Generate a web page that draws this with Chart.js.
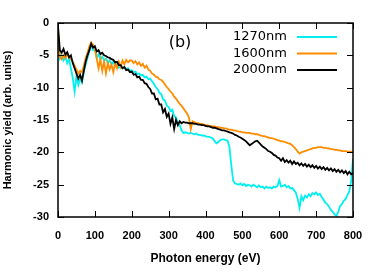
<!DOCTYPE html>
<html>
<head>
<meta charset="utf-8">
<script src="https://cdn.jsdelivr.net/npm/chart.js@4.4.1/dist/chart.umd.min.js"></script>
<style>
html, body { margin: 0; padding: 0; background: #fff; }
</style>
</head>
<body>
<canvas id="grafico" width="380" height="272"></canvas>
<script>
// eixo x: energia do foton (eV), passo de 5 eV
var energia = [
  0, 5, 10, 15, 20, 25, 30, 35, 40, 45,
  50, 55, 60, 65, 70, 75, 80, 85, 90, 95,
  100, 105, 110, 115, 120, 125, 130, 135, 140, 145,
  150, 155, 160, 165, 170, 175, 180, 185, 190, 195,
  200, 205, 210, 215, 220, 225, 230, 235, 240, 245,
  250, 255, 260, 265, 270, 275, 280, 285, 290, 295,
  300, 305, 310, 315, 320, 325, 330, 335, 340, 345,
  350, 355, 360, 365, 370, 375, 380, 385, 390, 395,
  400, 405, 410, 415, 420, 425, 430, 435, 440, 445,
  450, 455, 460, 465, 470, 475, 480, 485, 490, 495,
  500, 505, 510, 515, 520, 525, 530, 535, 540, 545,
  550, 555, 560, 565, 570, 575, 580, 585, 590, 595,
  600, 605, 610, 615, 620, 625, 630, 635, 640, 645,
  650, 655, 660, 665, 670, 675, 680, 685, 690, 695,
  700, 705, 710, 715, 720, 725, 730, 735, 740, 745,
  750, 755, 760, 765, 770, 775, 780, 785, 790, 795,
  800
];

// 1270nm (ciano)
var serie1270 = [
  -1.5, -5.5, -5.0, -5.8, -5.2, -6.2, -5.6, -7.0, -8.5, -10.6,
  -8.2, -9.6, -8.6, -9.2, -7.6, -6.4, -5.4, -4.4, -3.4, -4.2,
  -4.0, -5.4, -4.8, -5.6, -5.2, -5.8, -5.5, -6.2, -5.8, -6.4,
  -6.0, -6.6, -6.4, -6.9, -6.7, -7.0, -6.8, -7.2, -7.0, -7.4,
  -7.3, -7.6, -7.5, -7.9, -7.8, -8.1, -8.0, -8.4, -8.3, -8.7,
  -8.6, -9.0, -9.4, -9.9, -10.2, -10.8, -11.0, -11.8, -12.0, -12.8,
  -13.0, -13.6, -13.4, -14.4, -14.6, -15.4, -15.8, -16.6, -17.0, -16.9,
  -17.0, -17.1, -17.0, -17.1, -17.2, -17.1, -17.3, -17.3, -17.4, -17.4,
  -17.5, -17.6, -17.6, -17.7, -17.9, -18.3, -18.6, -18.4, -18.1, -18.0,
  -18.0, -18.1, -18.2, -19.2, -22.0, -24.4, -24.8, -24.9, -25.0, -24.8,
  -25.1, -24.9, -25.2, -25.0, -25.1, -25.3, -25.0, -25.2, -25.4, -25.1,
  -25.4, -25.3, -25.6, -25.3, -25.5, -25.4, -25.6, -25.3, -25.4, -25.2,
  -24.3, -25.3, -25.2, -25.0, -25.4, -25.2, -25.6, -25.5, -25.9, -26.2,
  -27.2, -28.6, -26.8, -27.4, -26.7, -27.0, -26.5, -26.8, -26.3, -26.5,
  -26.2, -26.6, -26.4, -26.9, -27.3, -27.8, -28.0, -28.4, -28.9, -29.2,
  -29.6, -29.8, -29.2, -28.3, -28.0, -27.5, -27.2, -26.6, -26.0, -24.5,
  -21.0
];

// 1600nm (laranja)
var serie1600 = [
  -1.0, -5.2, -5.6, -5.0, -5.4, -4.9, -5.2, -5.6, -6.0, -6.6,
  -7.2, -7.8, -7.4, -7.6, -6.6, -5.4, -4.6, -3.6, -3.0, -3.4,
  -4.0, -5.5, -7.0, -5.6, -7.4, -6.0, -7.8, -6.2, -7.2, -6.4,
  -7.6, -6.2, -7.0, -6.0, -6.8, -5.8, -6.4, -5.7, -6.1, -5.8,
  -5.8, -6.2, -5.9, -6.4, -6.1, -6.6, -6.3, -6.9, -6.6, -7.2,
  -7.4, -7.8, -8.0, -8.3, -8.4, -8.7, -8.8, -9.1, -9.5, -9.9,
  -10.2, -10.6, -10.9, -11.4, -11.7, -12.1, -12.5, -12.8, -13.2, -13.6,
  -14.0, -14.6, -16.4, -15.2, -15.3, -15.5, -15.5, -15.6, -15.6, -15.7,
  -15.8, -15.8, -15.9, -15.9, -16.0, -16.0, -16.1, -16.1, -16.2, -16.2,
  -16.3, -16.3, -16.4, -16.5, -16.5, -16.6, -16.6, -16.7, -16.8, -16.8,
  -16.9, -16.9, -17.0, -17.0, -17.0, -17.1, -17.1, -17.2, -17.2, -17.3,
  -17.4, -17.5, -17.5, -17.6, -17.7, -17.8, -17.8, -17.9, -18.0, -18.1,
  -18.2, -18.3, -18.3, -18.4, -18.5, -18.6, -18.7, -18.9, -19.2, -19.5,
  -19.9, -20.2, -20.0, -19.9, -19.8, -19.7, -19.6, -19.5, -19.4, -19.3,
  -19.3, -19.2, -19.2, -19.2, -19.3, -19.3, -19.4, -19.4, -19.5, -19.5,
  -19.6, -19.6, -19.7, -19.7, -19.8, -19.8, -19.8, -19.9, -19.9, -19.9,
  -20.0
];

// 2000nm (preto)
var serie2000 = [
  -0.5, -4.2, -4.6, -4.0, -4.9, -4.5, -5.3, -5.0, -6.2, -7.0,
  -7.8, -8.6, -8.0, -8.9, -7.4, -6.0, -5.0, -4.2, -3.2, -3.8,
  -3.6, -4.4, -4.2, -4.8, -4.6, -5.0, -5.1, -5.3, -5.4, -5.6,
  -5.7, -6.1, -6.0, -6.5, -6.5, -7.0, -6.8, -7.3, -7.2, -7.6,
  -7.5, -8.0, -7.9, -8.4, -8.3, -8.8, -8.8, -9.3, -9.4, -9.9,
  -10.2, -10.9, -10.9, -11.8, -11.7, -12.6, -12.6, -13.8, -13.3, -14.5,
  -14.0, -15.6, -14.6, -16.4, -15.0, -15.8, -15.2, -15.5, -15.3, -15.4,
  -15.4, -15.5, -15.5, -15.5, -15.6, -15.6, -15.7, -15.7, -15.8, -15.8,
  -15.9, -16.0, -16.0, -16.1, -16.2, -16.2, -16.3, -16.4, -16.5, -16.6,
  -16.6, -16.7, -16.8, -16.9, -17.0, -17.1, -17.3, -17.4, -17.6, -17.7,
  -17.9, -18.1, -18.3, -18.6, -18.9, -18.7, -18.5, -18.3, -18.2, -18.5,
  -18.8, -19.1, -19.3, -19.5, -19.8, -19.9, -20.1, -20.4, -20.5, -20.8,
  -20.9, -21.3, -20.9, -21.5, -21.2, -21.6, -21.3, -21.8, -21.4, -21.8,
  -21.6, -22.0, -21.7, -22.1, -21.8, -22.2, -21.9, -22.3, -22.0, -22.4,
  -22.1, -22.5, -22.2, -22.6, -22.3, -22.7, -22.4, -22.8, -22.5, -22.9,
  -22.6, -23.0, -22.7, -23.1, -22.8, -23.2, -22.9, -23.4, -23.0, -23.4,
  -23.2
];

var rotulosSerie = ['1270nm', '1600nm', '2000nm'];
var coresSerie = ['#00f0f0', '#ff8c00', '#000000'];
var ticksX = [0, 100, 200, 300, 400, 500, 600, 700, 800];
var ticksY = [0, -5, -10, -15, -20, -25, -30];

function pontos(serie) {
  return energia.map(function(e, i) { return { x: e, y: serie[i] }; });
}

// moldura, ticks para dentro, legenda e rotulo (b)
var moldura = {
  id: 'moldura',
  afterDatasetsDraw: function(chart) {
    var ctx = chart.ctx;
    var a = chart.chartArea;
    var sx = chart.scales.x, sy = chart.scales.y;
    ctx.save();
    ctx.strokeStyle = '#000';
    ctx.lineWidth = 1.5;
    ctx.strokeRect(a.left, a.top, a.right - a.left, a.bottom - a.top);
    ctx.beginPath();
    ticksX.forEach(function(v) {
      var px = Math.round(sx.getPixelForValue(v)) + 0.5;
      ctx.moveTo(px, a.bottom); ctx.lineTo(px, a.bottom - 6);
      ctx.moveTo(px, a.top); ctx.lineTo(px, a.top + 6);
    });
    ticksY.forEach(function(v) {
      var py = Math.round(sy.getPixelForValue(v)) + 0.5;
      ctx.moveTo(a.left, py); ctx.lineTo(a.left + 6, py);
      ctx.moveTo(a.right, py); ctx.lineTo(a.right - 6, py);
    });
    ctx.lineWidth = 1;
    ctx.stroke();

    ctx.font = '13px "DejaVu Sans"';
    ctx.textAlign = 'right';
    ctx.textBaseline = 'middle';
    ctx.fillStyle = '#000';
    rotulosSerie.forEach(function(r, i) {
      var yy = 37 + i * 16.5;
      ctx.fillText(r, 287, yy);
      ctx.beginPath();
      ctx.strokeStyle = coresSerie[i];
      ctx.lineWidth = 2;
      ctx.moveTo(297, yy);
      ctx.lineTo(337, yy);
      ctx.stroke();
    });

    ctx.font = '16px "DejaVu Sans"';
    ctx.textAlign = 'center';
    ctx.fillStyle = '#000';
    ctx.fillText('(b)', 180, 43);
    ctx.restore();
  }
};

var ctx = document.getElementById('grafico').getContext('2d');
var graficoHarm = new Chart(ctx, {
  type: 'line',
  data: {
    datasets: [
      { label: rotulosSerie[2], data: pontos(serie2000), borderColor: coresSerie[2], order: 0 },
      { label: rotulosSerie[1], data: pontos(serie1600), borderColor: coresSerie[1], order: 1 },
      { label: rotulosSerie[0], data: pontos(serie1270), borderColor: coresSerie[0], order: 2 }
    ]
  },
  options: {
    responsive: false,
    animation: false,
    devicePixelRatio: 1,
    layout: { padding: { top: 23, right: 27, left: 0, bottom: 0 } },
    elements: {
      line: { borderWidth: 1.8, tension: 0, fill: false },
      point: { radius: 0 }
    },
    plugins: {
      legend: { display: false },
      tooltip: { enabled: false }
    },
    scales: {
      x: {
        type: 'linear',
        min: 0,
        max: 800,
        afterFit: function(s) { s.height = 55; },
        grid: { display: false, drawTicks: false },
        border: { display: false },
        ticks: {
          stepSize: 100,
          padding: 12,
          color: '#000',
          font: { family: 'Liberation Sans', size: 11, weight: 'bold' }
        },
        title: {
          display: true,
          text: 'Photon energy (eV)',
          color: '#000',
          font: { family: 'Liberation Sans', size: 12, weight: 'bold' },
          padding: { top: 0, bottom: 6 }
        }
      },
      y: {
        type: 'linear',
        min: -30,
        max: 0,
        afterFit: function(s) { s.width = 58; },
        grid: { display: false, drawTicks: false },
        border: { display: false },
        ticks: {
          stepSize: 5,
          padding: 9,
          color: '#000',
          font: { family: 'Liberation Sans', size: 11, weight: 'bold' }
        },
        title: {
          display: true,
          text: 'Harmonic yield (arb. units)',
          color: '#000',
          font: { family: 'Liberation Sans', size: 11, weight: 'bold' },
          padding: { top: 1, bottom: 0 }
        }
      }
    }
  },
  plugins: [moldura]
});
</script>
</body>
</html>
